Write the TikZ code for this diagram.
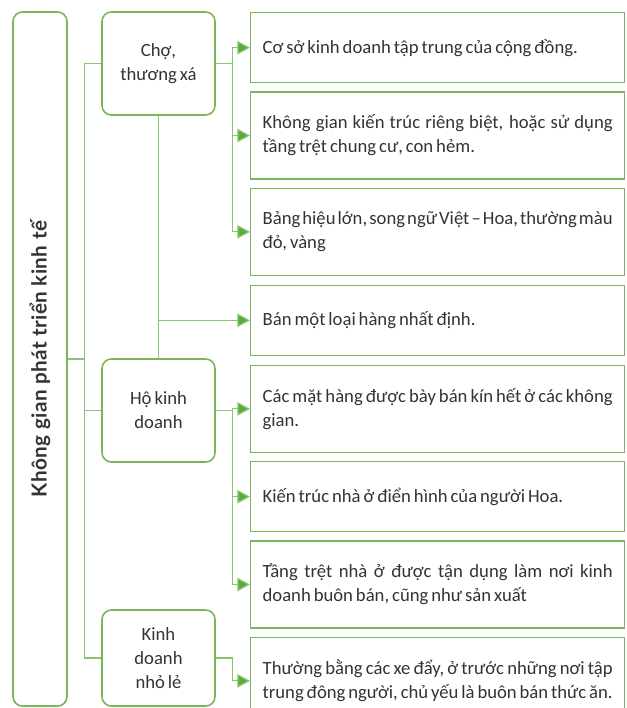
\documentclass[tikz,border=0pt]{standalone}
\usepackage{fontspec}
\setmainfont{Carlito}[WordSpace=0.7]
\newfontfamily\titlefont{Lato}[LetterSpace=2]
\usepackage{graphicx}
\usepackage{tikz}
\usetikzlibrary{arrows.meta,positioning}
\definecolor{framegreen}{HTML}{79B65A}
\definecolor{linegreen}{HTML}{8CC572}
\definecolor{tipgreen}{HTML}{58AD38}
\definecolor{inkgray}{HTML}{333333}

\begin{document}
\begin{tikzpicture}[
  x=0.75pt, y=-0.75pt,
  font=\fontsize{14}{18}\selectfont, text=inkgray,
  root/.style={draw=framegreen, line width=1.2pt, rounded corners=7pt,
    minimum width=40.5pt, minimum height=520.5pt, inner sep=0pt},
  group/.style={draw=framegreen, line width=1.2pt, rounded corners=7pt,
    align=center, minimum width=84.75pt, minimum height=77.25pt, inner sep=2pt},
  fact/.style={draw=framegreen, line width=1pt, align=justify,
    text width=262.5pt, inner xsep=9pt, inner ysep=3pt, minimum height=52.5pt},
  tall/.style={fact, minimum height=65.25pt},
  link/.style={draw=linegreen, line width=0.9pt},
  flow/.style={link, -{Triangle[length=9.5pt, width=10pt, fill=tipgreen]}}
]
\useasboundingbox (0,0) rectangle (626,708);

\node[root] (root) at (40,359) {\rotatebox{90}{\titlefont\fontsize{15.5}{18}\selectfont\bfseries Không gian phát triển kinh tế}};

\node[group] (cho) at (158.5,63.5) {Chợ,\\thương xá};
\node[group] (ho) at (158.5,410.5) {Hộ kinh\\doanh};
\node[group, minimum height=72pt] (nhole) at (158.5,658) {Kinh\\doanh\\nhỏ lẻ};

\node[fact, anchor=north west] (f1) at (250,12) {Cơ sở kinh doanh tập trung của cộng đồng.};
\node[tall, below=6pt of f1] (f2) {Không gian kiến trúc riêng biệt, hoặc sử dụng tầng trệt chung cư, con hẻm.};
\node[tall, below=6pt of f2] (f3) {Bảng hiệu lớn, song ngữ Việt -- Hoa, thường màu đỏ, vàng};
\node[fact, below=6.5pt of f3] (f4) {Bán một loại hàng nhất định.};
\node[tall, below=6.5pt of f4] (f5) {Các mặt hàng được bày bán kín hết ở các không gian.};
\node[fact, below=6pt of f5] (f6) {Kiến trúc nhà ở điển hình của người Hoa.};
\node[tall, below=6pt of f6] (f7) {Tầng trệt nhà ở được tận dụng làm nơi kinh doanh buôn bán, cũng như sản xuất};
\node[tall, below=6pt of f7] (f8) {Thường bằng các xe đẩy, ở trước những nơi tập trung đông người, chủ yếu là buôn bán thức ăn.};

\draw[link] (cho.west) -- ++(-17,0) coordinate (spine) |- (nhole.west);
\draw[link] (ho.west) -- (ho.west -| spine);
\draw[link] (root.east) -- (root.east -| spine);
\draw[link] (cho) -- (ho);
\draw[flow] (f4.west -| cho.south) -- (f4.west);

\draw[link] (cho.east) -- ++(17,0) coordinate (chojoin);
\draw[flow] (chojoin) |- (f1.west);
\draw[flow] (chojoin) |- (f2.west);
\draw[flow] (chojoin) |- (f3.west);

\draw[link] (ho.east) -- ++(17,0) coordinate (hojoin);
\draw[flow] (hojoin) |- (f5.west);
\draw[flow] (hojoin) |- (f6.west);
\draw[flow] (hojoin) |- (f7.west);

\draw[flow] (nhole.east) -- ++(17,0) |- (f8.west);
\end{tikzpicture}
\end{document}
